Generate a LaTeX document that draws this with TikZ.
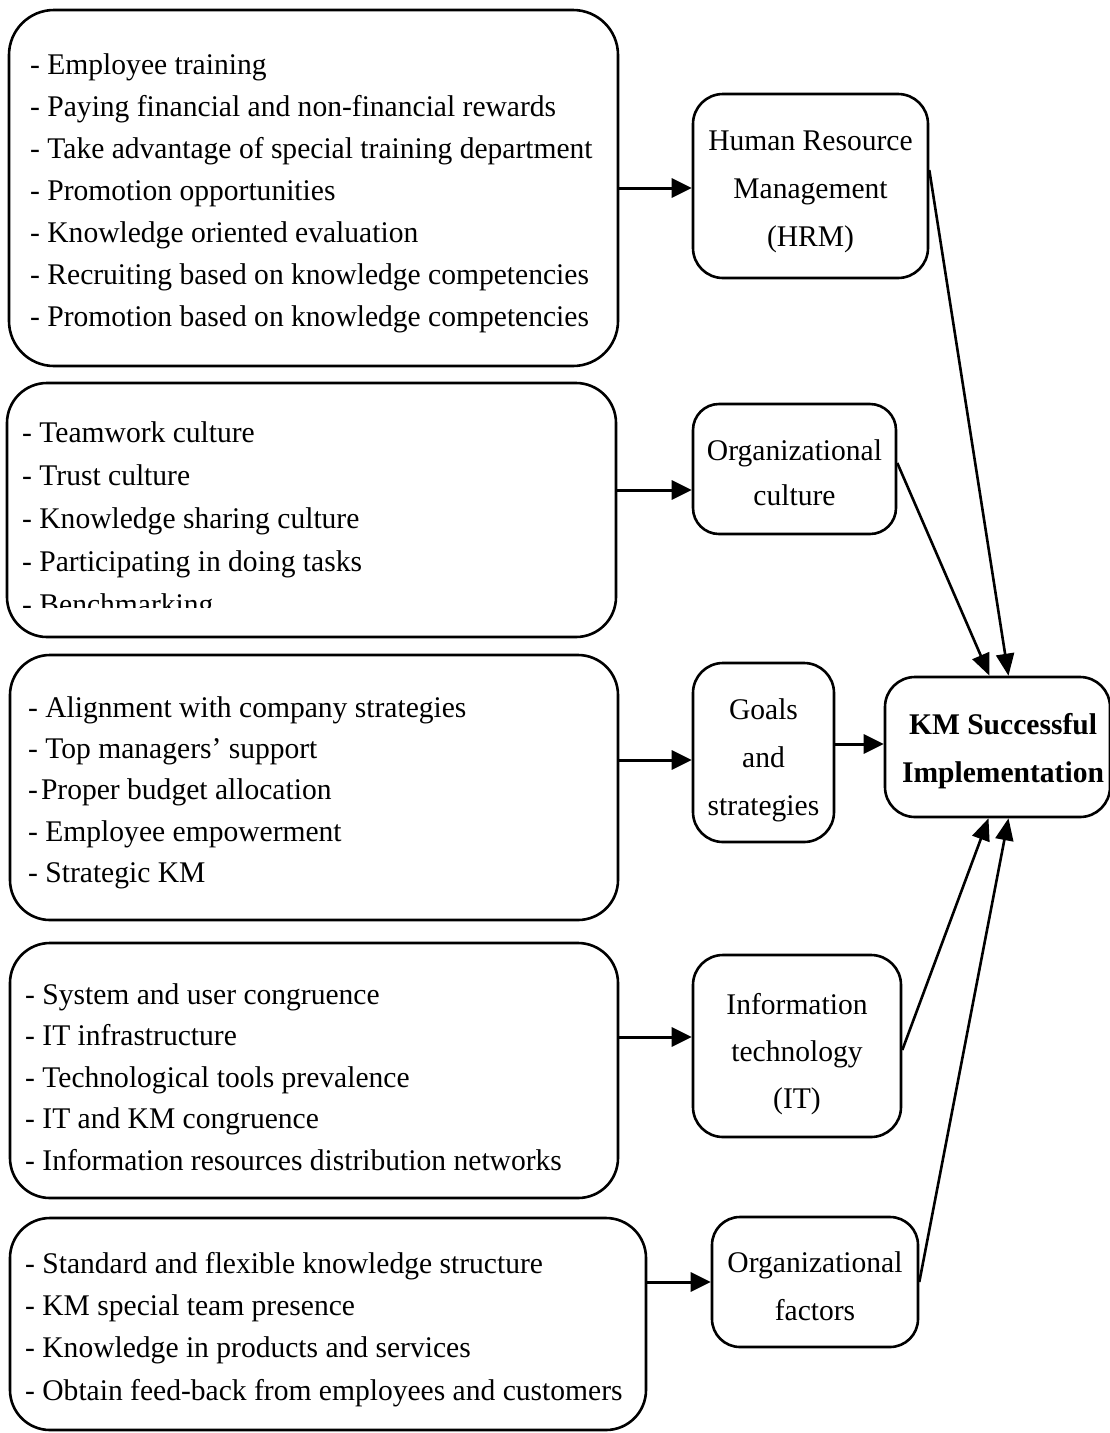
\documentclass[tikz,border=0pt]{standalone}
\usepackage{fontspec}
\setmainfont[FakeStretch=0.985]{Liberation Serif}
\usetikzlibrary{arrows.meta}
\tikzset{
  rbox/.style={draw, line width=2.6pt, inner sep=0pt},
  lt/.style={anchor=north west, align=left, inner sep=0pt, font=\fontsize{30}{#1}\selectfont},
  ct/.style={anchor=north, align=center, inner sep=0pt, font=\fontsize{30}{#1}\selectfont},
  arr/.style={line width=3pt, -{Triangle[length=20pt,width=19pt]}},
  darr/.style={line width=2.6pt, -{Triangle[length=22pt,width=18pt]}},
}
\begin{document}
\begin{tikzpicture}[x=1pt, y=-1pt]
\fill[white] (0,0) rectangle (1110,1433);
\useasboundingbox (0,0) rectangle (1110,1433);

% left boxes
\node[rbox, minimum width=609pt, minimum height=356pt, rounded corners=45pt] (b1) at (313.5,188) {};
\node[rbox, minimum width=609pt, minimum height=254pt, rounded corners=40pt] (b2) at (311.5,510) {};
\node[rbox, minimum width=608pt, minimum height=265pt, rounded corners=40pt] (b3) at (314,787.5) {};
\node[rbox, minimum width=608pt, minimum height=255pt, rounded corners=40pt] (b4) at (314,1070.5) {};
\node[rbox, minimum width=636pt, minimum height=212pt, rounded corners=40pt] (b5) at (328,1324) {};

\node[lt=42] (t1) at (30,44.6) {\strut- Employee training\\- Paying financial and non-financial rewards\\- Take advantage of special training department\\- Promotion opportunities\\- Knowledge oriented evaluation\\- Recruiting based on knowledge competencies\\- Promotion based on knowledge competencies};
\begin{scope}
  \clip (0,380) rectangle (650,607);
  \node[lt=43] (t2) at (22,411.9) {\strut- Teamwork culture\\- Trust culture\\- Knowledge sharing culture\\- Participating in doing tasks\\- Benchmarking};
\end{scope}
\node[lt=41.3] (t3) at (28,688.1) {\strut- Alignment with company strategies\\- Top managers' support\\-\kern3pt Proper budget allocation\\- Employee empowerment\\- Strategic KM};
\node[lt=41.5] (t4) at (25,975) {\strut- System and user congruence\\- IT infrastructure\\- Technological tools prevalence\\- IT and KM congruence\\- Information resources distribution networks};
\node[lt=42.3] (t5) at (25,1243.4) {\strut- Standard and flexible knowledge structure\\- KM special team presence\\- Knowledge in products and services\\- Obtain feed-back from employees and customers};

% right boxes
\node[rbox, minimum width=235pt, minimum height=184pt, rounded corners=30pt] (hrm) at (810.5,186) {};
\node[rbox, minimum width=203pt, minimum height=130pt, rounded corners=26pt] (oc) at (794.5,469) {};
\node[rbox, minimum width=141pt, minimum height=179pt, rounded corners=30pt] (goals) at (763.5,752.5) {};
\node[rbox, minimum width=225pt, minimum height=140pt, rounded corners=30pt] (km) at (997.5,747) {};
\node[rbox, minimum width=208pt, minimum height=182pt, rounded corners=30pt] (it) at (797,1046) {};
\node[rbox, minimum width=206pt, minimum height=130pt, rounded corners=28pt] (of) at (815,1282) {};

\node[ct=48] (hrmt) at (810.5,117.1) {\strut Human Resource\\Management\\(HRM)};
\node[ct=45] (oct) at (794.5,428.5) {\strut Organizational\\culture};
\node[ct=48] (gt) at (763.5,685.4) {\strut Goals\\and\\strategies};
\node[ct=48, font=\fontsize{30}{48}\selectfont\bfseries] (kmt) at (1003,700.4) {\strut KM Successful\\Implementation};
\node[ct=47] (itt) at (797,981.1) {\strut Information\\technology\\(IT)};
\node[ct=48] (oft) at (815,1238.4) {\strut Organizational\\factors};

% connector end points
\coordinate (in1) at ([yshift=-2pt]hrm.west);
\coordinate (in2) at ([yshift=-21pt]oc.west);
\coordinate (in3) at ([yshift=-7.5pt]goals.west);
\coordinate (in4) at ([yshift=9pt]it.west);
\coordinate (in5) at (of.west);
\coordinate (in6) at ([yshift=3pt]km.west);

\draw[arr] (b1.east |- in1) -- (in1);
\draw[arr] (b2.east |- in2) -- (in2);
\draw[arr] (b3.east |- in3) -- (in3);
\draw[arr] (b4.east |- in4) -- (in4);
\draw[arr] (b5.east |- in5) -- (in5);
\draw[arr] (goals.east |- in6) -- (in6);

\draw[darr] ([yshift=16pt]hrm.east) -- ([xshift=11pt]km.north);
\draw[darr] ([yshift=6pt]oc.east) -- ([xshift=-8pt]km.north);
\draw[darr] ([yshift=-4pt]it.east) -- ([xshift=-9pt]km.south);
\draw[darr] (of.east) -- ([xshift=11pt]km.south);
\end{tikzpicture}
\end{document}
